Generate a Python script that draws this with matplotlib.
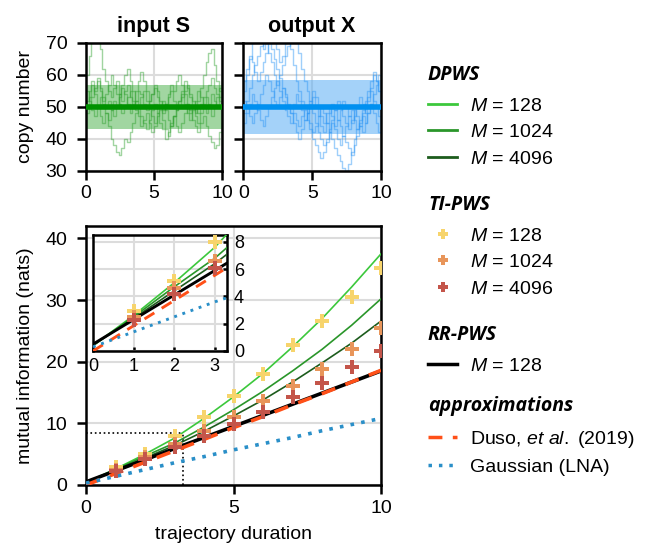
import matplotlib
matplotlib.use("Agg")
import matplotlib.pyplot as plt
import numpy as np
from matplotlib.lines import Line2D

plt.rcParams["font.family"] = ["Liberation Sans", "DejaVu Sans"]
plt.rcParams["font.size"] = 14
plt.rcParams["mathtext.fontset"] = "custom"
plt.rcParams["mathtext.it"] = "Liberation Sans:italic"
plt.rcParams["mathtext.rm"] = "Liberation Sans"

# ---- top panels: example trajectories -------------------------------------
t_traj = np.arange(51) * 0.2

s_traces = [
    [60, 66, 72, 74, 71, 68, 62, 58, 55, 53, 56, 58, 54, 52, 55, 57, 53, 50, 52, 55, 54, 51, 49, 52, 54, 56,
     53, 50, 48, 51, 53, 55, 52, 49, 50, 53, 55, 57, 54, 52, 50, 48, 51, 53, 55, 57, 59, 56, 54, 52, 50],
    [52, 55, 58, 54, 50, 47, 45, 48, 44, 40, 38, 36, 35, 37, 40, 39, 42, 45, 48, 50, 53, 55, 52, 50, 47, 45,
     48, 50, 52, 49, 46, 44, 47, 49, 52, 54, 51, 48, 46, 49, 52, 55, 53, 50, 48, 51, 54, 52, 50, 53, 55],
    [48, 50, 53, 56, 58, 55, 52, 54, 57, 60, 57, 54, 51, 48, 50, 53, 55, 52, 49, 47, 44, 46, 48, 45, 42, 44,
     47, 49, 46, 43, 41, 44, 47, 50, 52, 55, 58, 56, 53, 50, 48, 52, 56, 60, 64, 67, 68, 63, 58, 55, 60],
    [55, 52, 49, 47, 50, 53, 51, 48, 46, 49, 52, 50, 54, 57, 60, 62, 58, 55, 52, 50, 47, 45, 43, 46, 49, 51,
     48, 45, 43, 40, 42, 45, 47, 44, 42, 45, 48, 51, 49, 46, 44, 42, 45, 47, 44, 41, 39, 37, 38, 42, 45],
    [50, 53, 57, 55, 59, 56, 53, 50, 52, 49, 47, 50, 53, 56, 54, 51, 48, 51, 55, 58, 61, 58, 55, 52, 54, 57,
     55, 52, 49, 51, 54, 57, 55, 58, 60, 57, 54, 51, 48, 50, 47, 45, 48, 51, 53, 50, 47, 50, 53, 56, 58],
]
x_traces = [
    [55, 60, 65, 70, 74, 76, 72, 68, 70, 73, 75, 72, 68, 64, 66, 70, 72, 68, 63, 58, 55, 52, 50, 48, 52, 55,
     53, 50, 47, 45, 48, 50, 47, 44, 46, 49, 52, 50, 47, 45, 47, 50, 53, 51, 48, 52, 56, 60, 58, 55, 52],
    [48, 52, 56, 60, 63, 66, 69, 72, 70, 67, 64, 60, 57, 60, 63, 66, 69, 72, 74, 71, 67, 62, 58, 55, 52, 48,
     45, 42, 40, 38, 40, 43, 46, 49, 52, 50, 47, 45, 43, 46, 49, 47, 44, 42, 45, 48, 51, 54, 57, 60, 56],
    [45, 48, 51, 54, 52, 49, 46, 44, 47, 50, 53, 56, 58, 55, 52, 49, 47, 45, 48, 46, 44, 47, 49, 46, 43, 40,
     38, 36, 34, 36, 39, 42, 45, 43, 40, 38, 41, 44, 47, 49, 46, 43, 45, 48, 51, 53, 55, 52, 50, 47, 45],
    [52, 50, 47, 45, 48, 51, 54, 57, 60, 58, 55, 52, 50, 53, 56, 54, 51, 48, 45, 42, 40, 43, 46, 48, 45, 42,
     44, 47, 50, 48, 45, 42, 40, 37, 35, 33, 31, 30, 32, 36, 40, 43, 46, 49, 52, 55, 58, 61, 58, 55, 52],
    [58, 62, 66, 64, 61, 58, 61, 64, 67, 70, 68, 65, 62, 59, 56, 53, 50, 48, 51, 54, 52, 49, 46, 48, 51, 53,
     50, 47, 44, 42, 45, 48, 51, 49, 46, 44, 41, 39, 37, 35, 38, 41, 44, 47, 45, 48, 51, 48, 45, 42, 38],
]
s_mean, s_lo, s_hi = 50, 43, 57
x_mean, x_lo, x_hi = 50, 41.5, 58.5

# ---- bottom panel: mutual information ------------------------------------
t_mi = [0, 1, 2, 3, 4, 5, 6, 7, 8, 9, 10]
dpws = {
    "128":  [0.4, 2.6, 5.0, 7.6, 10.8, 14.3, 18.1, 22.4, 27.0, 32.1, 37.5],
    "1024": [0.4, 2.5, 4.7, 6.8, 9.4, 12.2, 15.2, 18.5, 22.0, 25.9, 30.2],
    "4096": [0.4, 2.4, 4.4, 6.4, 8.7, 11.2, 13.8, 16.7, 19.8, 23.0, 26.6],
}
t_ti = [1, 2, 3, 4, 5, 6, 7, 8, 9, 10]
ti_pws = {
    "128":  [2.9, 5.1, 8.0, 11.1, 14.5, 18.0, 22.7, 26.6, 30.5, 35.2],
    "1024": [2.5, 4.6, 6.6, 8.8, 11.0, 13.7, 16.0, 18.8, 22.0, 25.5],
    "4096": [2.3, 4.2, 6.1, 7.9, 9.9, 11.9, 14.2, 16.6, 19.1, 21.7],
}
rr_pws = [0.5, 2.3, 4.1, 5.9, 7.7, 9.5, 11.3, 13.1, 14.9, 16.7, 18.5]
duso = [0.0, 1.85, 3.7, 5.55, 7.4, 9.3, 11.1, 13.0, 14.8, 16.7, 18.6]
gaussian = [0.3, 1.4, 2.5, 3.6, 4.6, 5.7, 6.7, 7.7, 8.8, 9.8, 10.8]
inset_xmax, inset_ymax = 3.3, 8.5

dpws_colors = {"128": "#3cc83c", "1024": "#2a962a", "4096": "#1d5c1d"}
ti_colors = {"128": "#f7d46c", "1024": "#e8955a", "4096": "#c4554a"}
duso_color = "#ff5018"
gauss_color = "#2a8fc8"
grid_kw = dict(color="#dcdcdc", lw=1.5, zorder=0)

fig = plt.figure(figsize=(6.47, 5.44), dpi=100)
ax_s = fig.add_axes([0.133, 0.686, 0.210, 0.235])
ax_x = fig.add_axes([0.376, 0.686, 0.213, 0.235], sharey=ax_s)
ax_mi = fig.add_axes([0.133, 0.1085, 0.456, 0.476])
ax_in = fig.add_axes([0.1437, 0.3548, 0.2071, 0.2132])


def style(ax, lw=1.8):
    for sp in ax.spines.values():
        sp.set_linewidth(lw)
    ax.tick_params(axis="x", width=lw, length=6.5, pad=4)
    ax.tick_params(axis="y", width=lw, length=6.5, pad=7)


# trajectories
for ax, traces, col, mean_col, mean, lo, hi, band, title in [
    (ax_s, s_traces, "#2ca02c", "#009200", s_mean, s_lo, s_hi, "#55b555", "input S"),
    (ax_x, x_traces, "#2b95f5", "#0090f0", x_mean, x_lo, x_hi, "#5aaef5", "output X"),
]:
    ax.fill_between([0, 10], [lo, lo], [hi, hi], color=band, alpha=0.55, lw=0, zorder=1)
    for tr in traces:
        ax.step(t_traj, tr, where="post", color=col, alpha=0.45, lw=1, zorder=2)
    ax.plot([0, 10], [mean, mean], color=mean_col, lw=4, zorder=3)
    ax.set_xlim(0, 10)
    ax.set_ylim(30, 70)
    ax.set_xticks([0, 5, 10])
    ax.set_yticks([30, 40, 50, 60, 70])
    ax.grid(True, **grid_kw)
    ax.set_axisbelow(True)
    ax.set_title(title, fontweight="bold", fontsize=15.5, pad=8)
    style(ax)
ax_x.tick_params(labelleft=False)
ax_s.set_ylabel("copy number", labelpad=8)

# mutual information
for ax, lw_scale in [(ax_mi, 1.0), (ax_in, 0.8)]:
    for m in ["128", "1024", "4096"]:
        ax.plot(t_mi, dpws[m], color=dpws_colors[m], lw=1.2, zorder=3)
    ax.plot(t_mi, rr_pws, color="k", lw=2.6 * lw_scale, zorder=4)
    ax.plot(t_mi, duso, color=duso_color, lw=2.6 * lw_scale, ls=(0, (4, 3)), zorder=5)
    ax.plot(t_mi, gaussian, color=gauss_color, lw=2.6 * lw_scale, ls=(0, (1, 2)), zorder=5)
    for m in ["128", "1024", "4096"]:
        ax.plot(t_ti, ti_pws[m], ls="none", marker="P", ms=10, color=ti_colors[m],
                markeredgewidth=0, zorder=6)
    ax.grid(True, **grid_kw)
    ax.set_axisbelow(True)

ax_mi.plot([0, inset_xmax], [inset_ymax, inset_ymax], ls=":", color="k", lw=1.2, zorder=2)
ax_mi.plot([inset_xmax, inset_xmax], [0, inset_ymax], ls=":", color="k", lw=1.2, zorder=2)
ax_mi.set_xlim(0, 10)
ax_mi.set_ylim(0, 42)
ax_mi.set_xticks([0, 5, 10])
ax_mi.set_yticks([0, 10, 20, 30, 40])
ax_mi.set_xlabel("trajectory duration", labelpad=7)
ax_mi.set_ylabel("mutual information (nats)", labelpad=8)
style(ax_mi)

ax_in.set_xlim(0, inset_xmax)
ax_in.set_ylim(0, inset_ymax)
ax_in.set_xticks([0, 1, 2, 3])
ax_in.set_yticks([0, 2, 4, 6, 8])
ax_in.yaxis.tick_right()
style(ax_in)
ax_in.tick_params(direction="in", length=3, labelsize=13, pad=5)
ax_in.set_facecolor("white")

# legends
head_font = dict(family="Open Sans", weight="bold", style="italic", size=14)
leg_kw = dict(loc="upper left", frameon=False, borderpad=0, borderaxespad=0,
              handlelength=1.5, handletextpad=0.65, labelspacing=0.45,
              alignment="left", title_fontproperties=head_font, fontsize=14)

h_dpws = [Line2D([], [], color=dpws_colors[m], lw=2) for m in dpws]
h_ti = [Line2D([], [], ls="none", marker="P", ms=7, markeredgewidth=0, color=ti_colors[m]) for m in ti_pws]
h_rr = [Line2D([], [], color="k", lw=2.5)]
h_ap = [Line2D([], [], color=duso_color, lw=2.5, ls=(0, (4, 3))),
        Line2D([], [], color=gauss_color, lw=2.5, ls=(0, (1, 2)))]

groups = [
    ("DPWS", h_dpws, [f"$M$ = {m}" for m in dpws], 0.881),
    ("TI-PWS", h_ti, [f"$M$ = {m}" for m in ti_pws], 0.642),
    ("RR-PWS", h_rr, ["$M$ = 128"], 0.4025),
    ("approximations", h_ap, [r"Duso, $et\ al.$ (2019)", "Gaussian (LNA)"], 0.272),
]
for title, handles, labels, ytop in groups:
    lg = fig.legend(handles, labels, title=title, bbox_to_anchor=(0.6615, ytop), **leg_kw)
    lg._legend_box.sep = 9

fig.savefig("out.png", dpi=100)
